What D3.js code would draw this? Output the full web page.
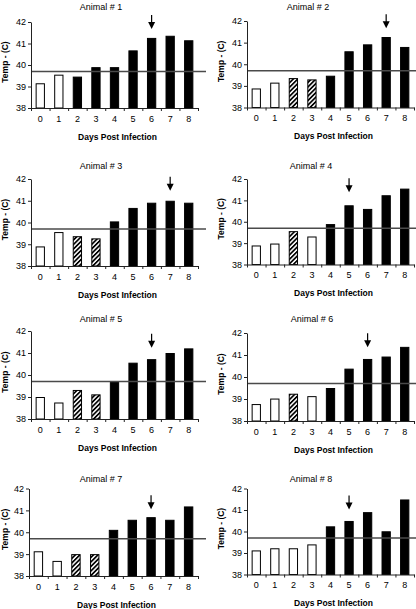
<!DOCTYPE html>
<html>
<head>
<meta charset="utf-8">
<script src="https://cdn.jsdelivr.net/npm/d3@7"></script>
<style>
  html, body { margin: 0; padding: 0; background: #fff; }
  svg { display: block; font-family: "Liberation Sans", Arial, sans-serif; }
</style>
</head>
<body>
<svg id="chart" width="416" height="609"></svg>
<script>
// ---------- DATA ----------
const days = [0, 1, 2, 3, 4, 5, 6, 7, 8];
const yTicks = [38, 39, 40, 41, 42];
const animalNames = ["Animal # 1", "Animal # 2", "Animal # 3", "Animal # 4",
                     "Animal # 5", "Animal # 6", "Animal # 7", "Animal # 8"];
const temps1 = [39.15, 39.55, 39.46, 39.90, 39.90, 40.68, 41.26, 41.36, 41.15];
const temps2 = [38.88, 39.15, 39.36, 39.30, 39.47, 40.60, 40.92, 41.26, 40.80];
const temps3 = [38.90, 39.56, 39.37, 39.27, 40.05, 40.67, 40.91, 41.00, 40.91];
const temps4 = [38.89, 38.98, 39.56, 39.31, 39.89, 40.77, 40.60, 41.24, 41.55];
const temps5 = [39.00, 38.75, 39.32, 39.12, 39.72, 40.56, 40.72, 41.00, 41.21];
const temps6 = [38.77, 39.02, 39.24, 39.13, 39.50, 40.38, 40.82, 40.93, 41.37];
const temps7 = [39.13, 38.69, 39.00, 39.00, 40.11, 40.57, 40.69, 40.57, 41.18];
const temps8 = [39.12, 39.22, 39.22, 39.40, 40.24, 40.49, 40.90, 40.01, 41.49];
// o = open, h = hatched, f = filled
const status1 = ["o","o","f","f","f","f","f","f","f"];
const status2 = ["o","o","h","h","f","f","f","f","f"];
const status3 = ["o","o","h","h","f","f","f","f","f"];
const status4 = ["o","o","h","o","f","f","f","f","f"];
const status5 = ["o","o","h","h","f","f","f","f","f"];
const status6 = ["o","o","h","o","f","f","f","f","f"];
const status7 = ["o","o","h","h","f","f","f","f","f"];
const status8 = ["o","o","o","o","f","f","f","f","f"];
const arrowDays = [6, 7, 7, 5, 6, 6, 6, 5];
const arrowTips = [41.67, 41.67, 41.46, 41.38, 41.24, 41.35, 41.05, 41.02];
const threshold = 39.7;
const xTitle = "Days Post Infection";
const yTitle = "Temp - (C)";

const allTemps = [temps1, temps2, temps3, temps4, temps5, temps6, temps7, temps8];
const allStatus = [status1, status2, status3, status4, status5, status6, status7, status8];

// ---------- LAYOUT ----------
const layout = [
  {x0: 31,  x1: 198, yTop: 22,  yBot: 108, titleX: 101, titleY: 9.5,  lineEnd: 206},
  {x0: 247, x1: 414, yTop: 21,  yBot: 107.5, titleX: 308, titleY: 9.5, lineEnd: 416},
  {x0: 31,  x1: 198, yTop: 179, yBot: 266, titleX: 101, titleY: 168.5, lineEnd: 206},
  {x0: 247, x1: 414, yTop: 179, yBot: 264.5, titleX: 311, titleY: 168.5, lineEnd: 416},
  {x0: 31,  x1: 198, yTop: 331, yBot: 419, titleX: 101, titleY: 321.5, lineEnd: 206},
  {x0: 247, x1: 414, yTop: 333, yBot: 421, titleX: 312, titleY: 321.5, lineEnd: 416},
  {x0: 29,  x1: 198, yTop: 488.5, yBot: 576, titleX: 101, titleY: 481.5, lineEnd: 206},
  {x0: 247, x1: 414, yTop: 488.5, yBot: 574.5, titleX: 311, titleY: 481.5, lineEnd: 416}
];

const svg = d3.select("#chart");
const defs = svg.append("defs");
const pat = defs.append("pattern")
  .attr("id", "hatch").attr("patternUnits", "userSpaceOnUse")
  .attr("width", 3.2).attr("height", 3.2)
  .attr("patternTransform", "rotate(45)");
pat.append("rect").attr("width", 3.2).attr("height", 3.2).attr("fill", "#fff");
pat.append("rect").attr("x", 0).attr("y", 0).attr("width", 1.7).attr("height", 3.2)
  .attr("fill", "#000");

allTemps.forEach((temps, i) => {
  const L = layout[i];
  const status = allStatus[i];
  const g = svg.append("g");

  const x = d3.scaleBand().domain(days).range([L.x0, L.x1]).paddingInner(0.5).paddingOuter(0.25);
  const xb = d3.scaleLinear().domain([0, days.length]).range([L.x0, L.x1]);
  const y = d3.scaleLinear().domain([38, 42]).range([L.yBot, L.yTop]);

  // bars
  g.selectAll("rect.bar").data(days).enter().append("rect")
    .attr("class", "bar")
    .attr("x", d => x(d) + 0.5)
    .attr("y", d => y(temps[d]) + 0.5)
    .attr("width", x.bandwidth() - 1)
    .attr("height", d => y(38) - y(temps[d]) - 0.5)
    .attr("fill", d => status[d] === "f" ? "#000" : (status[d] === "h" ? "url(#hatch)" : "#fff"))
    .attr("stroke", "#000").attr("stroke-width", 1);

  // threshold line
  g.append("line")
    .attr("x1", L.x0).attr("x2", L.lineEnd)
    .attr("y1", y(threshold)).attr("y2", y(threshold))
    .attr("stroke", "#4a4a4a").attr("stroke-width", 1.5);

  // y axis
  const ya = g.append("g").attr("transform", `translate(${L.x0},0)`)
    .call(d3.axisLeft(y).tickValues(yTicks).tickSize(3).tickSizeOuter(0).tickPadding(2).tickFormat(d3.format("d")));
  ya.select(".domain").attr("stroke", "#222");
  ya.selectAll(".tick line").attr("stroke", "#222");
  ya.selectAll("text").attr("font-size", 9).attr("fill", "#000").attr("font-family", "Liberation Sans, Arial, sans-serif");

  // x axis: boundary ticks
  const xa = g.append("g").attr("transform", `translate(0,${L.yBot})`)
    .call(d3.axisBottom(xb).tickValues(d3.range(0, days.length + 1)).tickSize(3).tickSizeOuter(0).tickFormat(""));
  xa.select(".domain").attr("stroke", "#222");
  xa.selectAll(".tick line").attr("stroke", "#222");

  // x labels
  const xl = g.append("g").attr("transform", `translate(0,${L.yBot})`)
    .call(d3.axisBottom(x).tickSize(0).tickPadding(7.5));
  xl.select(".domain").remove();
  xl.selectAll("text").attr("font-size", 9).attr("fill", "#000").attr("font-family", "Liberation Sans, Arial, sans-serif");

  // x title
  g.append("text")
    .attr("x", (L.x0 + L.x1) / 2 + 3).attr("y", L.yBot + 31.5)
    .attr("text-anchor", "middle").attr("font-size", 8.5).attr("font-weight", "bold")
    .text(xTitle);

  // y title
  g.append("text")
    .attr("transform", `translate(${Math.max(L.x0 - 23, 8)},${(L.yTop + L.yBot) / 2 - 3}) rotate(-90)`)
    .attr("text-anchor", "middle").attr("font-size", 8.5).attr("font-weight", "bold")
    .text(yTitle);

  // panel title
  g.append("text")
    .attr("x", L.titleX).attr("y", L.titleY)
    .attr("text-anchor", "middle").attr("font-size", 9)
    .text(animalNames[i]);

  // arrow
  const ax = x(arrowDays[i]) + x.bandwidth() / 2;
  const ay = y(arrowTips[i]);
  g.append("line").attr("x1", ax).attr("x2", ax).attr("y1", ay - 14).attr("y2", ay - 5)
    .attr("stroke", "#000").attr("stroke-width", 1.2);
  g.append("path")
    .attr("d", d3.line()([[ax - 3.5, ay - 7], [ax + 3.5, ay - 7], [ax, ay]]) + "Z")
    .attr("fill", "#000");
});
</script>
</body>
</html>
